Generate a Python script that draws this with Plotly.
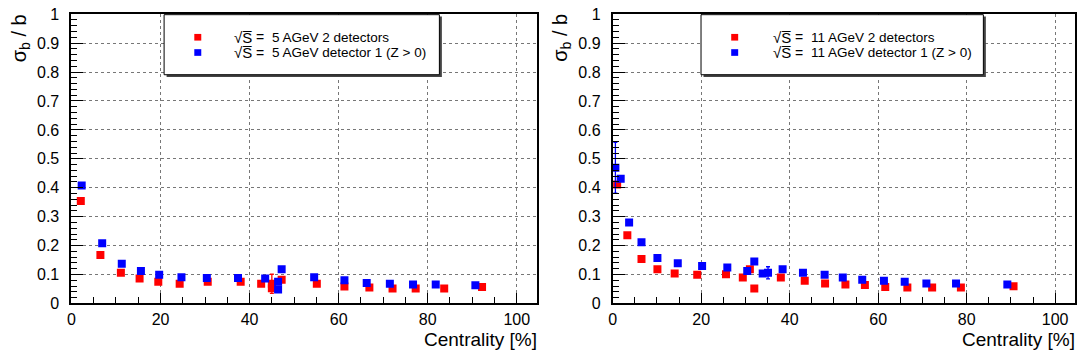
import plotly.graph_objects as go

W, H = 1083, 363

# ---- data: sqrt(s) = 5 AGeV ----
c5_two_x = [2.1, 6.5, 11.1, 15.3, 19.5, 24.3, 30.6, 38.0, 42.6, 45.0, 45.0, 47.2, 55.1, 61.3, 66.9, 72.1, 77.3, 83.7, 92.2]
c5_two_y = [0.354, 0.168, 0.106, 0.086, 0.075, 0.068, 0.075, 0.075, 0.068, 0.068, 0.053, 0.082, 0.068, 0.059, 0.055, 0.052, 0.052, 0.052, 0.057]
c5_two_err = [0, 0, 0, 0, 0, 0, 0, 0, 0, 0.033, 0, 0, 0, 0, 0, 0, 0, 0, 0]

c5_one_x = [2.3, 6.9, 11.3, 15.6, 19.7, 24.7, 30.4, 37.4, 43.5, 46.4, 46.4, 47.2, 54.5, 61.3, 66.3, 71.5, 76.7, 81.8, 90.7]
c5_one_y = [0.408, 0.208, 0.137, 0.112, 0.099, 0.091, 0.088, 0.088, 0.086, 0.075, 0.048, 0.118, 0.091, 0.080, 0.071, 0.068, 0.066, 0.066, 0.063]
c5_one_err = [0] * 19

# ---- data: sqrt(s) = 11 AGeV ----
c11_two_x = [1.0, 3.3, 6.5, 10.1, 14.0, 19.1, 25.6, 29.4, 31.0, 32.0, 38.0, 43.4, 48.0, 52.6, 57.0, 61.6, 66.6, 72.2, 78.7, 90.6]
c11_two_y = [0.411, 0.236, 0.154, 0.118, 0.104, 0.099, 0.101, 0.090, 0.118, 0.052, 0.090, 0.079, 0.069, 0.066, 0.064, 0.057, 0.055, 0.055, 0.055, 0.060]
c11_two_err = [0] * 20

c11_one_x = [0.6, 1.8, 3.7, 6.5, 10.1, 14.7, 20.2, 25.9, 30.4, 32.0, 33.9, 35.1, 38.4, 43.0, 47.9, 52.0, 56.4, 61.3, 66.0, 70.9, 77.6, 89.2]
c11_one_y = [0.469, 0.431, 0.280, 0.212, 0.157, 0.139, 0.130, 0.124, 0.112, 0.145, 0.104, 0.106, 0.118, 0.106, 0.099, 0.090, 0.082, 0.079, 0.075, 0.069, 0.069, 0.066]
c11_one_err = [0.088, 0, 0, 0, 0, 0, 0, 0, 0, 0, 0, 0.021, 0, 0, 0, 0, 0, 0, 0, 0, 0, 0]

legend5 = ["5 AGeV 2 detectors", "5 AGeV detector 1 (Z > 0)"]
legend11 = ["11 AGeV 2 detectors", "11 AGeV detector 1 (Z > 0)"]
x_ticks = [0, 20, 40, 60, 80, 100]
y_ticks = [0, 0.1, 0.2, 0.3, 0.4, 0.5, 0.6, 0.7, 0.8, 0.9, 1]
y_tick_text = ["0", "0.1", "0.2", "0.3", "0.4", "0.5", "0.6", "0.7", "0.8", "0.9", "1"]

RED = "#ff0000"
BLUE = "#0000ff"
FONT = "Liberation Sans, Arial, Helvetica, sans-serif"


def px(x):
    return x / W


def py(y):
    return 1 - y / H


fig = go.Figure()


def add_series(x, y, err, color, xa, ya):
    fig.add_trace(go.Scatter(
        x=x, y=y, mode="markers", xaxis=xa, yaxis=ya, showlegend=False,
        marker=dict(symbol="square", size=8, color=color, line=dict(width=0)),
        error_y=dict(type="data", array=err, visible=True, color=color, thickness=1.3, width=2),
    ))


add_series(c5_two_x, c5_two_y, c5_two_err, RED, "x", "y")
add_series(c5_one_x, c5_one_y, c5_one_err, BLUE, "x", "y")
add_series(c11_two_x, c11_two_y, c11_two_err, RED, "x2", "y2")
add_series(c11_one_x, c11_one_y, c11_one_err, BLUE, "x2", "y2")

ydom = [py(310), py(6.5)]

common_x = dict(
    range=[0, 104.5],
    showline=True, linecolor="black", linewidth=2, mirror=True,
    ticks="inside", ticklen=10, tickwidth=1, tickcolor="black",
    tickvals=x_ticks, ticklabelstandoff=0,
    tickfont=dict(family=FONT, size=16, color="black"),
    showgrid=True, gridcolor="#777", griddash="dot", gridwidth=1,
    zeroline=False, ticklabeloverflow="allow",
    minor=dict(ticks="inside", ticklen=6, dtick=5, tick0=0, tickcolor="black", showgrid=False),
)
common_y = dict(
    range=[0, 1],
    showline=True, linecolor="black", linewidth=2, mirror=True,
    ticks="inside", ticklen=12, tickwidth=1, tickcolor="black",
    tickvals=y_ticks, ticktext=y_tick_text, ticklabelstandoff=7,
    tickfont=dict(family=FONT, size=16, color="black"),
    showgrid=True, gridcolor="#777", griddash="dot", gridwidth=1,
    zeroline=False, ticklabeloverflow="allow",
    minor=dict(ticks="inside", ticklen=6, dtick=0.02, tick0=0, tickcolor="black", showgrid=False),
)

fig.update_layout(
    width=W, height=H,
    margin=dict(l=0, r=0, t=0, b=0),
    paper_bgcolor="white", plot_bgcolor="white",
    xaxis=dict(domain=[px(67.7), px(534.8)], anchor="y", **common_x),
    yaxis=dict(domain=ydom, anchor="x", **common_y),
    xaxis2=dict(domain=[px(611), px(1075)], anchor="y2", **common_x),
    yaxis2=dict(domain=ydom, anchor="x2", **common_y),
)

shapes = []
annotations = []


def panel_decor(left, right, labels, off):
    # legend box with shadow
    shapes.append(dict(type="rect", xref="paper", yref="paper",
                       x0=px(left + 2.5), x1=px(right + 2.5), y0=py(72.5), y1=py(9),
                       fillcolor="#444", line=dict(width=0)))
    shapes.append(dict(type="rect", xref="paper", yref="paper",
                       x0=px(left), x1=px(right), y0=py(70), y1=py(7),
                       fillcolor="white", line=dict(color="black", width=1)))
    for yy, col, lab in [(30.7, RED, labels[0]), (46.7, BLUE, labels[1])]:
        mx = left + 33.8
        shapes.append(dict(type="rect", xref="paper", yref="paper",
                           x0=px(mx - 3.5), x1=px(mx + 3.5), y0=py(yy + 3.5), y1=py(yy - 3.5),
                           fillcolor=col, line=dict(width=0)))
        annotations.append(dict(xref="paper", yref="paper", x=px(left + 68 + off), y=py(yy),
                                xanchor="left", yanchor="middle", showarrow=False,
                                text="√S\u0305", font=dict(family=FONT, size=15, color="black")))
        annotations.append(dict(xref="paper", yref="paper", x=px(left + 96 + off), y=py(yy),
                                xanchor="center", yanchor="middle", showarrow=False,
                                text="=", font=dict(family=FONT, size=14, color="black")))
        annotations.append(dict(xref="paper", yref="paper", x=px(left + 106.5 + off), y=py(yy),
                                xanchor="left", yanchor="middle", showarrow=False,
                                text=lab, font=dict(family=FONT, size=13.5, color="black")))


panel_decor(160.7, 437, legend5, 0)
panel_decor(699.6, 983, legend11, 2)

for xr, yt_x in [(534.8, 16.5), (1075, 560)]:
    annotations.append(dict(xref="paper", yref="paper", x=px(xr + 1), y=py(348),
                            xanchor="right", yanchor="middle", showarrow=False, borderpad=0,
                            text="Centrality [%]", font=dict(family=FONT, size=19, color="black")))
    annotations.append(dict(xref="paper", yref="paper", x=px(yt_x), y=py(4),
                            xanchor="center", yanchor="top", showarrow=False, textangle=-90,
                            text="σ<sub>b</sub> / b", font=dict(family=FONT, size=20, color="black")))

fig.update_layout(shapes=shapes, annotations=annotations)

fig.write_html("out.html")
